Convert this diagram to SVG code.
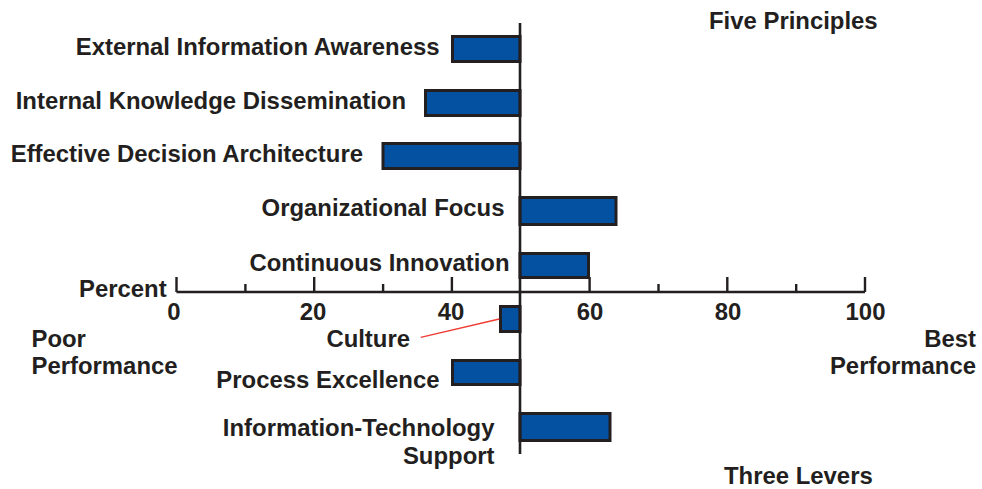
<svg xmlns="http://www.w3.org/2000/svg" width="982" height="489" viewBox="0 0 982 489">
<style>
text{font-family:"Liberation Sans",Arial,Helvetica,sans-serif;font-weight:bold;font-size:23.9px;fill:#231f20}
.e{text-anchor:end}
.m{text-anchor:middle}
.bar{fill:#0450a1;stroke:#231f20;stroke-width:3}
.ax{stroke:#231f20;stroke-width:2.6;fill:none}
.tk{stroke:#231f20;stroke-width:2.4}
</style>
<rect width="982" height="489" fill="#ffffff"/>
<g id="titles">
<text x="709" y="29">Five Principles</text>
<text x="724" y="484">Three Levers</text>
<text x="31.5" y="346.5">Poor</text>
<text x="31.5" y="374">Performance</text>
<text class="e" x="976" y="346.5">Best</text>
<text class="e" x="976" y="374">Performance</text>
</g>
<g id="bar-external">
<rect class="bar" x="452.5" y="36.5" width="67.5" height="25"/>
<text class="e" x="439.5" y="55">External Information Awareness</text>
</g>
<g id="bar-internal">
<rect class="bar" x="425.5" y="90.5" width="94.5" height="25"/>
<text class="e" x="406" y="109">Internal Knowledge Dissemination</text>
</g>
<g id="bar-decision">
<rect class="bar" x="383" y="143.5" width="137" height="25"/>
<text class="e" x="363" y="162.3">Effective Decision Architecture</text>
</g>
<g id="bar-focus">
<rect class="bar" x="520" y="197.5" width="96" height="27"/>
<text class="e" x="504.5" y="216">Organizational Focus</text>
</g>
<g id="bar-innovation">
<rect class="bar" x="520" y="253.5" width="68.5" height="24"/>
<text class="e" x="509.5" y="270.7">Continuous Innovation</text>
</g>
<g id="bar-culture">
<rect class="bar" x="500.5" y="306.5" width="19.5" height="25"/>
<text class="e" x="410" y="347">Culture</text>
</g>
<g id="bar-process">
<rect class="bar" x="452.5" y="360.5" width="67.5" height="24"/>
<text class="e" x="439.5" y="388.3">Process Excellence</text>
</g>
<g id="bar-it">
<rect class="bar" x="520" y="413.5" width="90" height="27"/>
<text class="e" x="494.5" y="436">Information-Technology</text>
<text class="e" x="494.5" y="464">Support</text>
</g>
<g id="axis">
<text x="79" y="297.3">Percent</text>
<path class="ax" d="M176.5 292H865"/>
<path class="tk" d="M176.5 277V292M314.2 277V292M451.9 277V292M589.6 277V292M727.3 277V292M865 277V292M245.4 284V292M383.1 284V292M658.5 284V292M796.2 284V292"/>
<path class="ax" d="M520 23V454"/>
<text class="m" x="174" y="319.5">0</text>
<text class="m" x="313" y="319.5">20</text>
<text class="m" x="451" y="319.5">40</text>
<text class="m" x="590" y="319.5">60</text>
<text class="m" x="728" y="319.5">80</text>
<text class="m" x="865.5" y="319.5">100</text>
</g>
<g id="connectors">
<line x1="420.7" y1="337.3" x2="499.3" y2="319" stroke="#ee3b32" stroke-width="1.3"/>
</g>
</svg>
